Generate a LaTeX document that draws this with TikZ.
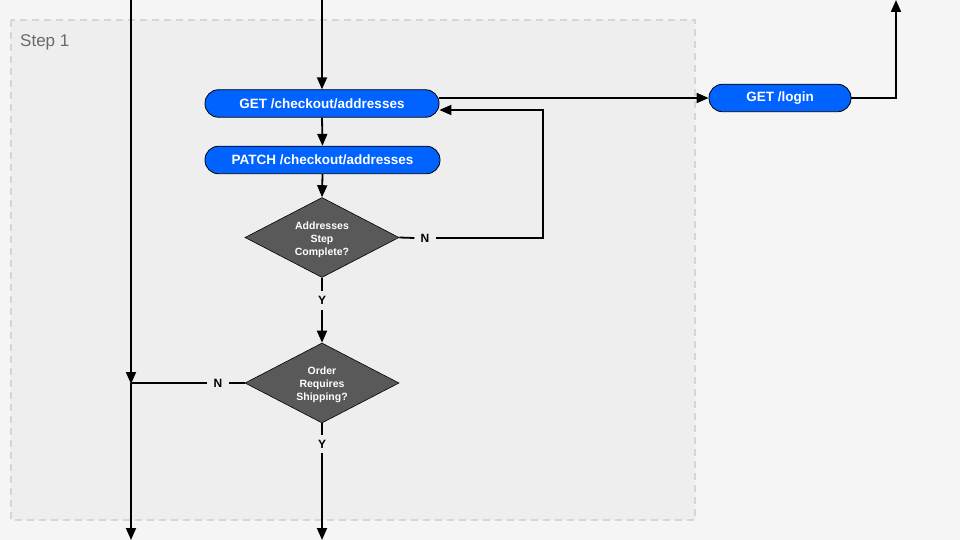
\documentclass[tikz,border=0pt]{standalone}
\usepackage{fontspec}
\setmainfont{Liberation Sans}
\usetikzlibrary{shapes.geometric,arrows.meta}
\definecolor{bgc}{HTML}{F5F5F5}
\definecolor{stepc}{HTML}{EEEEEE}
\definecolor{stepline}{HTML}{D6D6D6}
\definecolor{pillc}{HTML}{0062FF}
\definecolor{diac}{HTML}{595959}
\definecolor{stepgray}{HTML}{6A6A6A}
\newcommand{\dtxt}[1]{\raisebox{0pt}[\dimexpr\height+4pt\relax][\depth]{\begin{tabular}{@{}c@{}}#1\end{tabular}}}
\tikzset{
  pill/.style={draw=black, line width=0.8pt, fill=pillc, rounded corners=13.5pt, text=white,
    font=\fontsize{13.5}{15}\selectfont\bfseries, minimum height=27.5pt, inner sep=0pt},
  decision/.style={diamond, draw=black, line width=0.6pt, fill=diac, text=white,
    font=\fontsize{10.5}{13}\selectfont\bfseries, minimum width=154pt, minimum height=80pt,
    inner sep=0pt, align=center, aspect=1.9},
  lbl/.style={font=\fontsize{12}{14}\selectfont\bfseries, inner xsep=6pt, inner ysep=5pt, text=black},
  conn/.style={draw=black, line width=1.8pt, -{Triangle[width=10pt,length=12pt]}},
  plain/.style={draw=black, line width=1.8pt}
}
\begin{document}
\begin{tikzpicture}[x=1pt,y=-1pt]
\fill[bgc] (0,0) rectangle (960,540);
\useasboundingbox (0,0) rectangle (960,540);
\draw[stepline, fill=stepc, dash pattern=on 7pt off 5pt, line width=1.2pt] (11,20) rectangle (695,520);
\node[anchor=west, text=stepgray, font=\fontsize{17}{19}\selectfont, inner sep=0pt] (steplbl) at (20,42) {Step 1};

\node[pill, minimum width=234pt] (get) at (322,103.5) {GET /checkout/addresses};
\node[pill, minimum width=235pt] (patch) at (322.5,160) {PATCH /checkout/addresses};
\node[pill, minimum width=142pt] (login) at (780,98) {GET /login};
\node[decision] (d1) at (322,237.5) {\dtxt{Addresses\\Step\\Complete?}};
\node[decision] (d2) at (322,383) {\dtxt{Order\\Requires\\Shipping?}};

\node[lbl] (n1) at (425,238) {N};
\node[lbl] (y1) at (322,300.5) {Y};
\node[lbl] (n2) at (218,383) {N};
\node[lbl] (y2) at (322,444) {Y};

\coordinate (topmid) at (322,0);
\coordinate (topleft) at (131,0);
\coordinate (junc) at (131,383);
\coordinate (botleft) at (131,540);
\coordinate (botmid) at (322,540);
\coordinate (topright) at (896,0);
\coordinate (loopx) at (543,110);

\draw[conn] (topmid) -- (get.north);
\draw[conn] (get.south) -- (patch.north);
\draw[conn] (patch.south) -- (d1.north);
\draw[plain] (d1.east) -- (n1.west);
\draw[conn] (n1.east) -- (543,238) -- (loopx) -- (get.east |- loopx);
\draw[conn] (get.east |- 0,98) -- (login.west);
\draw[conn] (login.east) -- (896,98) -- (topright);
\draw[plain] (d1.south) -- (y1.north);
\draw[conn] (y1.south) -- (d2.north);
\draw[plain] (d2.west) -- (n2.east);
\draw[plain] (n2.west) -- (junc);
\draw[conn] (topleft) -- ([yshift=-1pt]junc);
\draw[conn] (junc) -- (botleft);
\draw[plain] (d2.south) -- (y2.north);
\draw[conn] (y2.south) -- (botmid);
\end{tikzpicture}
\end{document}
